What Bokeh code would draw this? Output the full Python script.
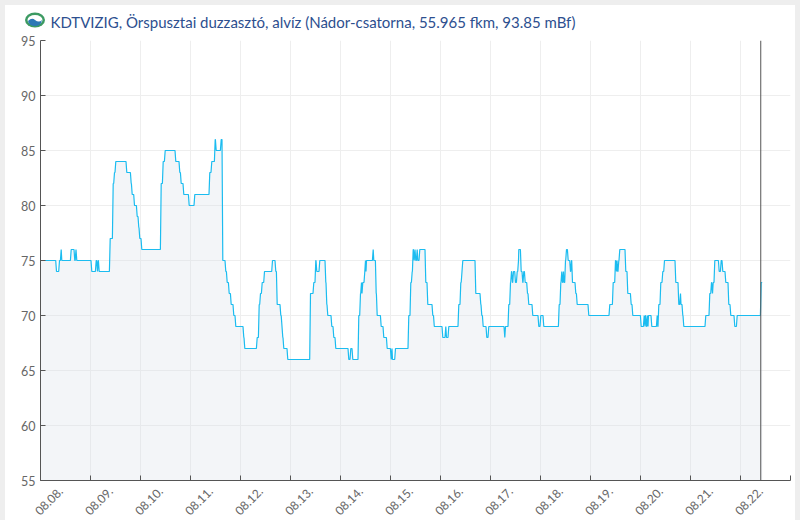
import math
from bokeh.plotting import figure
from bokeh.models import (ColumnDataSource, FixedTicker, Grid, LinearAxis,
                          Range1d, Span)
from bokeh.embed import file_html
from bokeh.resources import INLINE

TITLE = "KDTVIZIG, Örspusztai duzzasztó, alvíz (Nádor-csatorna, 55.965 fkm, 93.85 mBf)"
tick_labels = ["08.08.", "08.09.", "08.10.", "08.11.", "08.12.", "08.13.", "08.14.",
               "08.15.", "08.16.", "08.17.", "08.18.", "08.19.", "08.20.", "08.21.", "08.22."]
y_ticks = [55, 60, 65, 70, 75, 80, 85, 90, 95]
now_day = 14.405
end_day = 14.45

# (days since 08.08., level reached) for each change of the water level
runs_start = [(0, 75), (.32, 74), (.38, 75), (.414, 76), (.426, 75), (.614, 76), (.686, 75), (.71, 76),
              (.726, 75), (1.026, 74), (1.114, 75), (1.14, 74), (1.154, 75), (1.174, 74)]
runs_aug09 = [(1.374, 74), (1.394, 77), (1.454, 82), (1.48, 83), (1.506, 84), (1.726, 83), (1.814, 82),
              (1.834, 81), (1.88, 80), (1.934, 79), (1.966, 78), (1.986, 77), (2.026, 76)]
runs_aug10 = [(2.386, 76), (2.414, 82), (2.454, 84), (2.494, 85), (2.706, 84), (2.786, 83), (2.814, 82),
              (2.866, 81), (2.974, 80), (3.086, 81), (3.386, 83), (3.426, 84), (3.494, 86), (3.514, 85),
              (3.614, 86), (3.646, 75), (3.706, 74)]
runs_aug11 = [(3.734, 73), (3.774, 72), (3.814, 71), (3.866, 70), (3.906, 69), (4.066, 68), (4.086, 67),
              (4.334, 68), (4.374, 71), (4.40, 72), (4.434, 73), (4.48, 74), (4.64, 75), (4.706, 74),
              (4.734, 71), (4.806, 70), (4.83, 69), (4.846, 68), (4.866, 67), (4.946, 66)]
runs_aug13 = [(5.366, 66), (5.40, 72), (5.466, 73), (5.506, 75), (5.526, 74), (5.586, 75), (5.706, 73),
              (5.726, 71), (5.746, 70), (5.826, 69), (5.866, 68), (5.906, 67), (6.166, 66), (6.206, 67),
              (6.246, 66)]
runs_aug14 = [(6.346, 66), (6.366, 70), (6.40, 72), (6.42, 73), (6.43, 72), (6.446, 73), (6.486, 74),
              (6.50, 75), (6.51, 74), (6.52, 75), (6.654, 76), (6.666, 75), (6.714, 72), (6.734, 70),
              (6.814, 69), (6.866, 68), (6.934, 67), (7.014, 66), (7.03, 67), (7.04, 66), (7.10, 67)]
runs_aug15 = [(7.346, 67), (7.366, 70), (7.406, 73), (7.434, 74), (7.454, 76), (7.474, 75), (7.49, 76),
              (7.506, 75), (7.534, 76), (7.546, 75), (7.586, 76), (7.706, 73), (7.746, 71), (7.846, 70),
              (7.876, 69), (8.046, 68), (8.106, 69), (8.12, 68), (8.166, 69)]
runs_aug16 = [(8.346, 69), (8.366, 71), (8.406, 73), (8.43, 74), (8.446, 75), (8.706, 72), (8.806, 71),
              (8.826, 70), (8.854, 69), (8.926, 68), (8.966, 69), (9.286, 68), (9.30, 69)]
runs_aug17 = [(9.346, 69), (9.366, 71), (9.40, 73), (9.42, 74), (9.44, 73), (9.46, 74), (9.50, 73),
              (9.534, 74), (9.56, 75), (9.566, 76), (9.614, 74), (9.646, 73), (9.666, 74), (9.694, 73),
              (9.74, 72), (9.766, 71), (9.846, 70), (9.966, 69), (10.006, 70), (10.066, 69)]
runs_aug18 = [(10.354, 69), (10.374, 71), (10.406, 73), (10.426, 74), (10.44, 73), (10.46, 74), (10.47, 73),
              (10.50, 75), (10.52, 76), (10.554, 75), (10.60, 74), (10.62, 75), (10.64, 73), (10.706, 72),
              (10.734, 71), (10.966, 70)]
runs_aug19 = [(11.386, 71), (11.454, 73), (11.50, 75), (11.52, 74), (11.53, 75), (11.546, 74), (11.566, 75),
              (11.586, 76), (11.706, 74), (11.746, 72), (11.814, 71), (11.846, 70), (11.986, 70)]
runs_aug20 = [(12.014, 69), (12.074, 70), (12.09, 69), (12.10, 70), (12.12, 69), (12.14, 70), (12.15, 69),
              (12.16, 70), (12.226, 69), (12.334, 70), (12.346, 69), (12.366, 71), (12.406, 73), (12.446, 74),
              (12.48, 75), (12.706, 73), (12.766, 71), (12.80, 72), (12.81, 71), (12.846, 70), (12.866, 69)]
runs_aug21 = [(13.306, 70), (13.386, 72), (13.42, 73), (13.44, 72), (13.454, 73), (13.486, 75), (13.574, 74),
              (13.614, 75), (13.646, 74), (13.706, 73), (13.766, 71), (13.806, 70), (13.886, 69), (13.934, 70),
              (14.366, 70), (14.414, 73)]

runs = (runs_start + runs_aug09 + runs_aug10 + runs_aug11 + runs_aug13 + runs_aug14 + runs_aug15
        + runs_aug16 + runs_aug17 + runs_aug18 + runs_aug19 + runs_aug20 + runs_aug21)

# a level holds until shortly before the next change
xs, ys = [], []
for i, (t, v) in enumerate(runs):
    nxt = runs[i + 1][0] if i + 1 < len(runs) else end_day
    xs += [t, max(t, nxt - 0.016)]
    ys += [v, v]
src = ColumnDataSource(dict(x=xs, y=ys, base=[55] * len(xs)))

LOGO = ("url(\"data:image/svg+xml,<svg xmlns='http://www.w3.org/2000/svg' width='20' height='16'>"
        "<ellipse cx='10' cy='8' rx='10' ry='7.5' fill='%233c9a62'/>"
        "<ellipse cx='10' cy='8' rx='7.5' ry='5' fill='white'/>"
        "<path d='M3 9 Q7 5 10 8 Q14 11 17 8 Q16 14 10 14 Q4 14 3 9Z' fill='%232b78b5'/>"
        "</svg>\") no-repeat 20px 12px, linear-gradient(#eeeeee, #eeeeee) no-repeat 0 0 / 100% 5px, #ffffff")

p = figure(width=790, height=515, frame_width=750, frame_height=440,
           x_range=Range1d(0, 15), y_range=Range1d(55, 95),
           output_backend="svg", toolbar_location=None,
           min_border_left=35, min_border_right=5, min_border_top=40, min_border_bottom=35,
           x_axis_type=None, y_axis_type=None,
           border_fill_color=None, background_fill_color="#ffffff", outline_line_color=None)
p.styles = {"position": "absolute", "left": "0px", "top": "0px",
            "border-left": "5px solid #eeeeee", "border-right": "5px solid #eeeeee",
            "border-bottom": "5px solid #eeeeee", "background": LOGO}

day_ticks = list(range(16))
x_axis = LinearAxis(ticker=FixedTicker(ticks=day_ticks), axis_line_color="#555555", axis_line_width=1,
                    major_tick_in=5, major_tick_out=0, major_tick_line_color="#555555",
                    minor_tick_line_color=None, major_label_text_font_size="0px", major_label_standoff=0)
x_axis.major_label_overrides = {i: "" for i in day_ticks}
p.add_layout(x_axis, "below")

# labels sit to the right of their ticks: a second, shifted scale places them
p.extra_x_ranges["labels"] = Range1d(-0.41, 14.59)
lab_axis = LinearAxis(x_range_name="labels", ticker=FixedTicker(ticks=list(range(15))),
                      major_label_overrides={i: s for i, s in enumerate(tick_labels)},
                      axis_line_color=None, major_tick_line_color=None, minor_tick_line_color=None,
                      major_label_orientation=math.pi / 4, major_label_standoff=3,
                      major_label_text_color="#666666", major_label_text_font="Lato",
                      major_label_text_font_size="12px")
p.add_layout(lab_axis, "below")

y_axis = LinearAxis(ticker=FixedTicker(ticks=y_ticks), axis_line_color="#555555", axis_line_width=1,
                    major_tick_in=5, major_tick_out=0, major_tick_line_color="#555555",
                    minor_tick_line_color=None, major_label_standoff=5,
                    major_label_text_color="#666666", major_label_text_font="Lato",
                    major_label_text_font_size="12.5px")
p.add_layout(y_axis, "left")

p.add_layout(Grid(dimension=0, ticker=FixedTicker(ticks=day_ticks), grid_line_color="#eeeeee"))
p.add_layout(Grid(dimension=1, ticker=FixedTicker(ticks=y_ticks), grid_line_color="#eeeeee"))

p.varea(x="x", y1="base", y2="y", source=src, fill_color="#d7dee8", fill_alpha=0.3)
p.line(x="x", y="y", source=src, line_color="#1bbcf0", line_width=1.2)
p.add_layout(Span(location=now_day, dimension="height", line_color="#555555", line_width=1))

p.title.text = TITLE
p.title.text_font = "Lato"
p.title.text_font_style = "normal"
p.title.text_font_size = "15px"
p.title.text_color = "#2d4f8f"
p.title.align = "left"
p.title.offset = 10
p.title.standoff = 19

open("out.html", "w").write(file_html(p, INLINE))
